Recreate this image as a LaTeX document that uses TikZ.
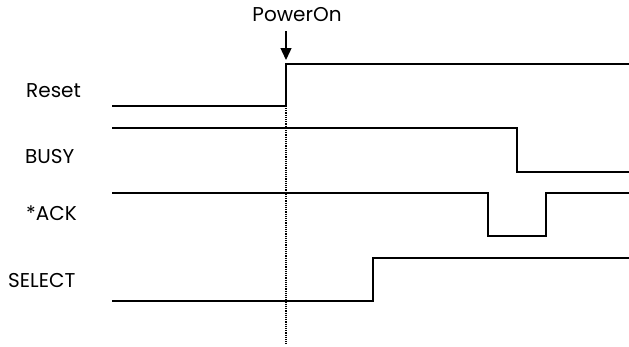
\documentclass[tikz,border=0pt]{standalone}
\usepackage{fontspec}
\setmainfont{Poppins}
\usetikzlibrary{arrows.meta,positioning}

\begin{document}
\begin{tikzpicture}[
  x=1pt, y=-1pt,
  font=\fontsize{20}{24}\selectfont,
  sig/.style={line width=1.4pt, line join=miter},
  lab/.style={anchor=west, inner sep=0pt},
  guide/.style={densely dotted, line width=1.2pt},
  arr/.style={-{Triangle[length=12pt, width=11pt]}, line width=1.4pt}
]
\useasboundingbox (0,0) rectangle (629,346);
% signal names
\node[lab] (reset) at (26,91) {Reset};
\node[lab] (busy) at (25,157) {BUSY};
\node[lab] (ack) at (26,213) {*ACK};
\node[lab] (select) at (8,281) {SELECT};
% power-on marker
\coordinate (pon) at (286,60);
\node[inner sep=0pt] (power) at (297,15) {PowerOn};
\draw[arr] (286,31) -- (pon);
\draw[guide] (286,64) -- (286,344);
% waveforms
\draw[sig] (112,106) -- (286,106) -- (286,64) -- (629,64);
\draw[sig] (112,128) -- (517,128) -- (517,172) -- (629,172);
\draw[sig] (112,193) -- (488,193) -- (488,236) -- (546,236) -- (546,193) -- (629,193);
\draw[sig] (112,301) -- (373,301) -- (373,258) -- (629,258);
\end{tikzpicture}
\end{document}
